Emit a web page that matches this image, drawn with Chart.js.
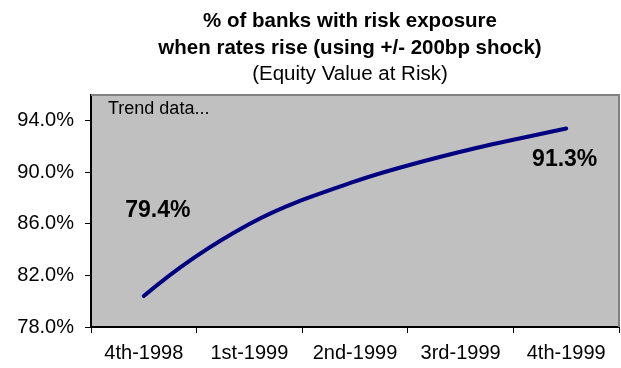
<!DOCTYPE html>
<html>
<head>
<meta charset="utf-8">
<script src="https://cdn.jsdelivr.net/npm/chart.js@4"></script>
<style>
  html, body { margin: 0; padding: 0; background: #fff; }
  #wrap { width: 621px; height: 368px; }
</style>
</head>
<body>
<div id="wrap"><canvas id="chartRisk" width="621" height="368"></canvas></div>
<script>
// quarters on the x axis
const quarters = ["4th-1998", "1st-1999", "2nd-1999", "3rd-1999", "4th-1999"];
// fitted trend, one value per quarter (%)
const trendValues = [80.4, 86.0, 89.3, 91.6, 93.4];
// reported values shown as labels (first and last quarter)
const reportedValues = [79.4, null, null, null, 91.3];
// y axis ticks (%)
const yTicks = [78, 82, 86, 90, 94];

const titleLines = [
  { text: "% of banks with risk exposure", bold: true },
  { text: "when rates rise (using +/- 200bp shock)", bold: true },
  { text: "(Equity Value at Risk)", bold: false },
];

const FONT = "'Liberation Sans', Arial, Helvetica, sans-serif";

// grey plot background + title + note text
const backdrop = {
  id: "backdrop",
  beforeDraw(chart) {
    const { ctx, chartArea: a } = chart;
    ctx.save();
    ctx.fillStyle = "#C0C0C0";
    ctx.fillRect(a.left, a.top, a.right - a.left, a.bottom - a.top);
    ctx.restore();
  },
  afterDraw(chart) {
    const { ctx, chartArea: a } = chart;
    ctx.save();
    // top and right frame
    ctx.strokeStyle = "#808080";
    ctx.lineWidth = 2;
    ctx.beginPath();
    ctx.moveTo(a.left, a.top);
    ctx.lineTo(a.right, a.top);
    ctx.lineTo(a.right, a.bottom);
    ctx.stroke();

    // title block
    ctx.fillStyle = "#000";
    ctx.textAlign = "center";
    ctx.textBaseline = "alphabetic";
    titleLines.forEach((l, i) => {
      ctx.font = (l.bold ? "bold " : "") + "20.5px " + FONT;
      ctx.fillText(l.text, 350, 27 + i * 26.5);
    });

    ctx.font = "18px " + FONT;
    ctx.textAlign = "left";
    ctx.fillText("Trend data...", 108, 114);
    ctx.restore();
  },
};

// the spline starts flat by default; give the first point an outgoing
// handle so the curve bends from the very start
const curveStart = {
  id: "curveStart",
  beforeDatasetDraw(chart, args) {
    if (args.index !== 0) return;
    const meta = args.meta;
    meta.dataset.updateControlPoints(chart.chartArea, "x");
    const p0 = meta.data[0], p1 = meta.data[1];
    const mx = 2 * (p1.x - p0.x) - 3 * (p1.x - p1.cp1x);
    const my = 2 * (p1.y - p0.y) - 3 * (p1.y - p1.cp1y);
    p0.cp2x = p0.x + mx / 3;
    p0.cp2y = p0.y + my / 3;
  },
};

// value labels for the reported points
const valueLabels = {
  id: "valueLabels",
  afterDatasetsDraw(chart) {
    const { ctx } = chart;
    const meta = chart.getDatasetMeta(1);
    const offsets = [[14, -98], null, null, null, [-1.5, 4]];
    ctx.save();
    ctx.font = "bold 23px " + FONT;
    ctx.fillStyle = "#000";
    ctx.textAlign = "center";
    ctx.textBaseline = "middle";
    reportedValues.forEach((v, i) => {
      if (v === null) return;
      const p = meta.data[i];
      const [dx, dy] = offsets[i];
      ctx.fillText(v.toFixed(1) + "%", p.x + dx, p.y + dy);
    });
    ctx.restore();
  },
};

new Chart(document.getElementById("chartRisk").getContext("2d"), {
  type: "line",
  data: {
    labels: quarters,
    datasets: [
      {
        data: trendValues,
        borderColor: "#000080",
        borderWidth: 4,
        borderCapStyle: "round",
        borderJoinStyle: "round",
        tension: 0.35,
        pointRadius: 0,
        fill: false,
      },
      {
        data: reportedValues,
        showLine: false,
        pointRadius: 0,
        pointHoverRadius: 0,
      },
    ],
  },
  options: {
    responsive: false,
    animation: false,
    events: [],
    layout: { padding: { top: 95, right: 2, left: 0, bottom: 0 } },
    plugins: {
      legend: { display: false },
      title: { display: false },
      tooltip: { enabled: false },
    },
    scales: {
      x: {
        type: "category",
        offset: true,
        grid: {
          offset: true,
          drawOnChartArea: false,
          drawTicks: true,
          tickLength: 6,
          tickColor: "#000",
          tickWidth: 1,
        },
        border: { color: "#000", width: 2 },
        ticks: {
          color: "#000",
          font: { family: FONT, size: 20 },
          padding: 8,
          maxRotation: 0,
          autoSkip: false,
        },
        afterFit(scale) { scale.height = 41; },
      },
      y: {
        min: 78,
        max: 96,
        afterBuildTicks(scale) {
          scale.ticks = yTicks.map((v) => ({ value: v }));
        },
        grid: {
          drawOnChartArea: false,
          drawTicks: true,
          tickLength: 6,
          tickColor: "#000",
          tickWidth: 1,
        },
        border: { color: "#000", width: 2 },
        ticks: {
          color: "#000",
          font: { family: FONT, size: 20 },
          padding: 11,
          callback: (v) => Number(v).toFixed(1) + "%",
        },
        afterFit(scale) { scale.width = 91; },
      },
    },
  },
  plugins: [backdrop, curveStart, valueLabels],
});
</script>
</body>
</html>
